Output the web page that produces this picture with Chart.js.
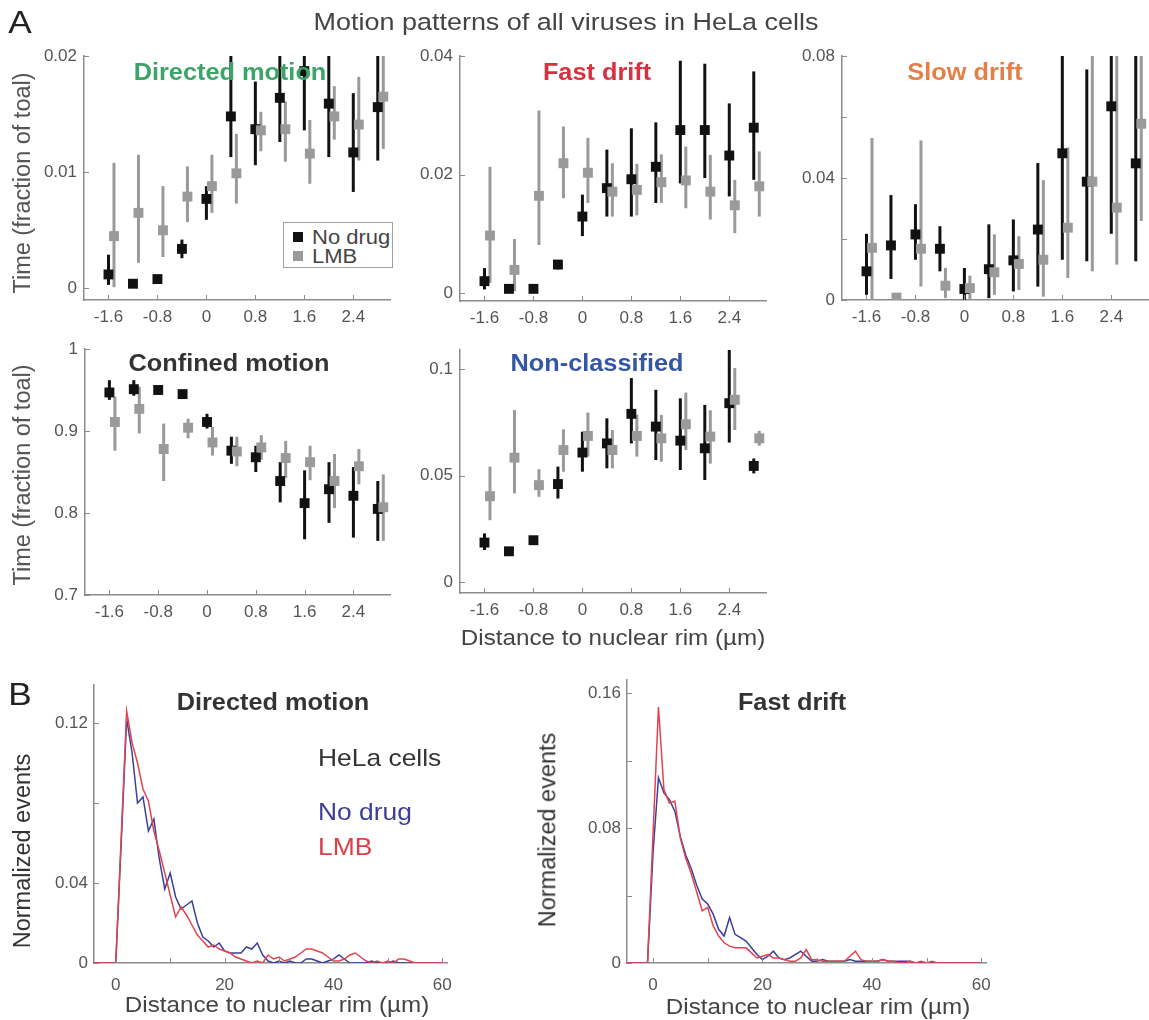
<!DOCTYPE html>
<html>
<head>
<meta charset="utf-8">
<script src="https://cdn.jsdelivr.net/npm/chart.js@4.4.1/dist/chart.umd.min.js"></script>
<style>
  body { margin: 0; background: #fff; }
  #fig { position: relative; width: 1149px; height: 1020px; overflow: hidden; background: #fff;
         font-family: "Liberation Sans", Arial, sans-serif; }
  .box { position: absolute; }
  .lbl { position: absolute; white-space: nowrap; line-height: 1; }
  #legend { position: absolute; left: 283px; top: 222px; width: 108px; height: 44px;
            border: 1px solid #a0a0a0; background: #fff; }
</style>
</head>
<body>
<div id="fig"></div>
<script>
// ---- panel A: distance bins (um) ----
const distA = [-1.6, -1.2, -0.8, -0.4, 0, 0.4, 0.8, 1.2, 1.6, 2.0, 2.4, 2.8];
const distTicksA = [-1.6, -0.8, 0, 0.8, 1.6, 2.4];
const distLabelsA = ['-1.6', '-0.8', '0', '0.8', '1.6', '2.4'];

// Directed motion
const directedNoDrug = [0.0012, 0.0004, 0.0008, 0.0034, 0.0077, 0.0148, 0.0137, 0.0164, 0.0187, 0.0159, 0.0117, 0.0156];
const directedNoDrugCI = [[0.0003, 0.0029], [0.0002, 0.0006], [0.0006, 0.0010], [0.0026, 0.0042], [0.0059, 0.0088], [0.0113, 0.0215],
  [0.0106, 0.0178], [0.0126, 0.0215], [0.0136, 0.0215], [0.0113, 0.0215], [0.0083, 0.0168], [0.0110, 0.0215]];
const directedLMB = [0.0045, 0.0065, 0.0050, 0.0079, 0.0088, 0.0099, 0.0136, 0.0137, 0.0116, 0.0148, 0.0141, 0.0165];
const directedLMBCI = [[0.0001, 0.0108], [0.0022, 0.0115], [0.0027, 0.0088], [0.0057, 0.0105], [0.0065, 0.0115], [0.0073, 0.0133],
  [0.0118, 0.0152], [0.0109, 0.0161], [0.0090, 0.0145], [0.0128, 0.0174], [0.0110, 0.0182], [0.0120, 0.0215]];

// Fast drift
const fastNoDrug = [0.0020, 0.0007, 0.0007, 0.0048, 0.0129, 0.0177, 0.0192, 0.0213, 0.0275, 0.0275, 0.0232, 0.0279];
const fastNoDrugCI = [[0.0006, 0.0042], [0.0004, 0.0010], [0.0004, 0.0010], [0.0040, 0.0055], [0.0096, 0.0166], [0.0129, 0.0242],
  [0.0129, 0.0278], [0.0152, 0.0288], [0.0185, 0.0392], [0.0194, 0.0387], [0.0163, 0.0320], [0.0191, 0.0374]];
const fastLMB = [0.0097, 0.0039, 0.0164, 0.0219, 0.0203, 0.0171, 0.0174, 0.0187, 0.0190, 0.0171, 0.0148, 0.0180];
const fastLMBCI = [[0.0017, 0.0213], [0.0003, 0.0091], [0.0081, 0.0308], [0.0160, 0.0281], [0.0152, 0.0262], [0.0129, 0.0219],
  [0.0131, 0.0218], [0.0152, 0.0234], [0.0143, 0.0247], [0.0124, 0.0233], [0.0101, 0.0191], [0.0129, 0.0239]];

// Slow drift
const slowNoDrug = [0.0094, 0.0179, 0.0215, 0.0168, 0.0036, 0.0101, 0.0130, 0.0231, 0.0481, 0.0388, 0.0635, 0.0448];
const slowNoDrugCI = [[0.0017, 0.0217], [0.0069, 0.0344], [0.0132, 0.0314], [0.0094, 0.0242], [0.0000, 0.0105], [0.0006, 0.0248],
  [0.0028, 0.0264], [0.0044, 0.0449], [0.0132, 0.0850], [0.0127, 0.0756], [0.0217, 0.0850], [0.0127, 0.0850]];
const slowLMB = [0.0171, 0.0008, 0.0168, 0.0047, 0.0039, 0.0091, 0.0118, 0.0132, 0.0237, 0.0388, 0.0303, 0.0578];
const slowLMBCI = [[0.0000, 0.0531], [0.0002, 0.0014], [0.0044, 0.0523], [0.0006, 0.0105], [0.0000, 0.0080], [0.0017, 0.0215],
  [0.0033, 0.0209], [0.0011, 0.0393], [0.0072, 0.0500], [0.0094, 0.0850], [0.0116, 0.0850], [0.0259, 0.0850]];

// Confined motion
const confinedNoDrug = [0.947, 0.951, 0.950, 0.945, 0.911, 0.876, 0.868, 0.839, 0.812, 0.829, 0.821, 0.805];
const confinedNoDrugCI = [[0.938, 0.962], [0.943, 0.962], [0.945, 0.955], [0.941, 0.949], [0.903, 0.921], [0.860, 0.893],
  [0.850, 0.882], [0.813, 0.862], [0.768, 0.852], [0.788, 0.862], [0.770, 0.856], [0.766, 0.839]];
const confinedLMB = [0.911, 0.927, 0.878, 0.904, 0.886, 0.875, 0.880, 0.867, 0.862, 0.839, 0.857, 0.807];
const confinedLMBCI = [[0.876, 0.942], [0.897, 0.954], [0.839, 0.909], [0.891, 0.915], [0.870, 0.905], [0.857, 0.893],
  [0.865, 0.895], [0.843, 0.888], [0.840, 0.882], [0.806, 0.872], [0.835, 0.878], [0.766, 0.847]];

// Non-classified
const nonclassNoDrug = [0.0185, 0.0144, 0.0196, 0.0460, 0.0608, 0.0651, 0.0790, 0.0730, 0.0664, 0.0628, 0.0840, 0.0545];
const nonclassNoDrugCI = [[0.0150, 0.0228], [0.0130, 0.0158], [0.0180, 0.0210], [0.0392, 0.0542], [0.0518, 0.0706], [0.0534, 0.0769],
  [0.0651, 0.0958], [0.0573, 0.0903], [0.0526, 0.0863], [0.0479, 0.0832], [0.0655, 0.1090], [0.0510, 0.0580]];
const nonclassLMB = [0.0403, 0.0584, 0.0455, 0.0620, 0.0686, 0.0620, 0.0686, 0.0675, 0.0741, 0.0683, 0.0856, 0.0675];
const nonclassLMBCI = [[0.0290, 0.0542], [0.0416, 0.0808], [0.0400, 0.0530], [0.0518, 0.0717], [0.0589, 0.0796], [0.0534, 0.0714],
  [0.0589, 0.0786], [0.0565, 0.0785], [0.0620, 0.0890], [0.0556, 0.0807], [0.0714, 0.1005], [0.0640, 0.0710]];

// ---- panel B: distance histogram (um) ----
const distB = [-5, -4, -3, -2, -1, 0, 1, 2, 3, 4, 5, 6, 7, 8, 9, 10, 11, 12, 13, 14, 15, 16, 17, 18, 19, 20,
  21, 22, 23, 24, 25, 26, 27, 28, 29, 30, 31, 32, 33, 34, 35, 36, 37, 38, 39, 40,
  41, 42, 43, 44, 45, 46, 47, 48, 49, 50, 51, 52, 53, 54, 55, 56, 57, 58, 59, 60];
const distTicksB = [0, 10, 20, 30, 40, 50, 60];
const distLabelsB = ['0', '', '20', '', '40', '', '60'];

const histDirectedNoDrug = [0, 0, 0, 0, 0, 0, 0.060, 0.122, 0.105, 0.080, 0.083, 0.066, 0.072, 0.052, 0.037, 0.045,
  0.033, 0.027, 0.029, 0.031, 0.020, 0.013, 0.011, 0.008, 0.010, 0.006,
  0.005, 0.005, 0.005, 0.008, 0.007, 0.010, 0.004, 0.001, 0, 0.001, 0, 0.001, 0, 0, 0.002, 0.002, 0.001, 0, 0.001, 0.002,
  0.004, 0.002, 0, 0, 0, 0, 0.001, 0, 0, 0, 0.001, 0, 0, 0, 0, 0, 0, 0, 0, 0];
const histDirectedLMB = [0, 0, 0, 0, 0, 0, 0.063, 0.126, 0.110, 0.100, 0.087, 0.081, 0.066, 0.056, 0.045, 0.034,
  0.023, 0.028, 0.024, 0.019, 0.014, 0.011, 0.008, 0.009, 0.007, 0.006,
  0.005, 0.003, 0.002, 0.001, 0, 0.001, 0, 0.004, 0.002, 0.003, 0.001, 0.002, 0.003, 0.005, 0.007, 0.007, 0.006, 0.005, 0.003, 0.001,
  0.001, 0.002, 0.004, 0.005, 0.003, 0.001, 0, 0.001, 0, 0.001, 0, 0.002, 0.002, 0.001, 0, 0, 0, 0, 0, 0];
const histFastNoDrug = [0, 0, 0, 0, 0, 0.065, 0.110, 0.101, 0.097, 0.090, 0.075, 0.064, 0.056, 0.046, 0.038, 0.035,
  0.029, 0.020, 0.016, 0.027, 0.017, 0.015, 0.013, 0.009, 0.005, 0.002,
  0.004, 0.007, 0.003, 0.002, 0.003, 0.005, 0.007, 0.004, 0.001, 0.001, 0.002, 0.001, 0.001, 0.001, 0.001, 0.002, 0.001, 0.001, 0.001, 0.001,
  0.001, 0.002, 0.001, 0.001, 0.001, 0.001, 0.001, 0, 0, 0, 0, 0, 0, 0, 0, 0, 0, 0, 0, 0];
const histFastLMB = [0, 0, 0, 0, 0, 0.076, 0.152, 0.103, 0.095, 0.096, 0.074, 0.062, 0.053, 0.042, 0.031, 0.033,
  0.022, 0.016, 0.012, 0.010, 0.009, 0.009, 0.009, 0.006, 0.003, 0.004,
  0.005, 0.003, 0.003, 0.002, 0.001, 0.001, 0.003, 0.008, 0.002, 0.002, 0.001, 0.001, 0.001, 0.001, 0.001, 0.004, 0.007, 0.002, 0.001, 0.001,
  0.001, 0.002, 0.001, 0.001, 0, 0, 0.001, 0, 0.001, 0, 0.001, 0, 0, 0, 0, 0, 0, 0, 0, 0];

// ---- look ----
const AXIS = '#8c8c8c';
const TICK_COLOR = '#555';
const FONT = '"Liberation Sans", Arial, sans-serif';
const BLACK = '#111';
const GRAY = '#9a9a9a';
const LMB_SHIFT = 0.09;
const PAD_L = 80, PAD_T = 22, PAD_B = 45;

const fig = document.getElementById('fig');

const errorBars = {
  id: 'errorBars',
  beforeDatasetsDraw(chart) {
    const { ctx, chartArea: a, scales: { x, y } } = chart;
    ctx.save();
    ctx.beginPath();
    ctx.rect(a.left, a.top, a.right - a.left, a.bottom - a.top);
    ctx.clip();
    chart.data.datasets.forEach(ds => {
      if (!ds.ci) return;
      ctx.strokeStyle = ds.barColor;
      ctx.lineWidth = ds.barWidth;
      ds.data.forEach((p, i) => {
        const px = x.getPixelForValue(p.x);
        ctx.beginPath();
        ctx.moveTo(px, y.getPixelForValue(ds.ci[i][0]));
        ctx.lineTo(px, y.getPixelForValue(ds.ci[i][1]));
        ctx.stroke();
      });
    });
    ctx.restore();
  }
};

// matlab style ticks pointing into the axes
const innerTicks = {
  id: 'innerTicks',
  afterDraw(chart) {
    const { ctx, chartArea: a, scales: { x, y } } = chart;
    ctx.save();
    ctx.strokeStyle = AXIS;
    ctx.lineWidth = 1;
    x.ticks.forEach(t => {
      const px = Math.round(x.getPixelForValue(t.value)) + 0.5;
      ctx.beginPath(); ctx.moveTo(px, a.bottom); ctx.lineTo(px, a.bottom - 5); ctx.stroke();
    });
    y.ticks.forEach(t => {
      const py = Math.round(y.getPixelForValue(t.value)) + 0.5;
      ctx.beginPath(); ctx.moveTo(a.left, py); ctx.lineTo(a.left + 5, py); ctx.stroke();
    });
    ctx.restore();
  }
};

function scale(min, max, ticks, labels, pad, fit) {
  return {
    type: 'linear', min, max,
    grid: { display: false, drawTicks: false },
    border: { display: true, color: AXIS, width: 1.5 },
    ticks: {
      font: { family: FONT, size: 17 }, color: TICK_COLOR, padding: pad,
      autoSkip: false, maxRotation: 0,
      callback: (v, i) => labels[i]
    },
    afterBuildTicks: s => { s.ticks = ticks.map(v => ({ value: v })); },
    afterFit: fit
  };
}

function makeCanvas(area) {
  const pr = area.pr !== undefined ? area.pr : 16;
  const w = area.r - area.l + PAD_L + pr;
  const h = area.b - area.t + PAD_T + PAD_B;
  const div = document.createElement('div');
  div.className = 'box';
  div.style.left = (area.l - PAD_L) + 'px';
  div.style.top = (area.t - PAD_T) + 'px';
  const canvas = document.createElement('canvas');
  canvas.width = w; canvas.height = h;
  canvas.style.width = w + 'px'; canvas.style.height = h + 'px';
  div.appendChild(canvas);
  fig.appendChild(div);
  return { ctx: canvas.getContext('2d'), pr };
}

function baseOptions(pr) {
  return {
    responsive: false,
    animation: false,
    devicePixelRatio: 1,
    layout: { padding: { top: PAD_T, right: pr, left: 0, bottom: 0 }, autoPadding: false },
    plugins: { legend: { display: false }, tooltip: { enabled: false } }
  };
}

function errorPanel(area, yMin, yMax, yTicks, yLabels, noDrug, noDrugCI, lmb, lmbCI) {
  const { ctx, pr } = makeCanvas(area);
  const opts = baseOptions(pr);
  opts.scales = {
    x: scale(-2, 3, distTicksA, distLabelsA, 7, s => { s.height = PAD_B; }),
    y: scale(yMin, yMax, yTicks, yLabels, 7, s => { s.width = PAD_L; })
  };
  return new Chart(ctx, {
    type: 'scatter',
    data: {
      datasets: [
        {
          label: 'LMB', order: 1,
          data: distA.map((d, i) => ({ x: d + LMB_SHIFT, y: lmb[i] })),
          ci: lmbCI, barColor: GRAY, barWidth: 3,
          pointStyle: 'rect', pointRadius: 7, backgroundColor: GRAY, borderWidth: 0
        },
        {
          label: 'No drug', order: 2,
          data: distA.map((d, i) => ({ x: d, y: noDrug[i] })),
          ci: noDrugCI, barColor: BLACK, barWidth: 3,
          pointStyle: 'rect', pointRadius: 7, backgroundColor: BLACK, borderWidth: 0
        }
      ]
    },
    options: opts,
    plugins: [errorBars, innerTicks]
  });
}

function histPanel(area, xMin, yMax, yTicks, yLabels, noDrug, lmb) {
  const { ctx, pr } = makeCanvas(area);
  const opts = baseOptions(pr);
  opts.scales = {
    x: scale(xMin, 61, distTicksB, distLabelsB, 12, s => { s.height = PAD_B; }),
    y: scale(0, yMax, yTicks, yLabels, 6, s => { s.width = PAD_L; })
  };
  return new Chart(ctx, {
    type: 'line',
    data: {
      datasets: [
        {
          label: 'LMB', order: 1,
          data: distB.map((d, i) => ({ x: d, y: lmb[i] })),
          borderColor: '#e3434f', borderWidth: 1.5, pointRadius: 0, tension: 0
        },
        {
          label: 'No drug', order: 2,
          data: distB.map((d, i) => ({ x: d, y: noDrug[i] })),
          borderColor: '#3c3f98', borderWidth: 1.5, pointRadius: 0, tension: 0
        }
      ]
    },
    options: opts,
    plugins: [innerTicks]
  });
}

errorPanel({ l: 84, t: 56, r: 390, b: 300 }, -0.001, 0.02, [0, 0.01, 0.02], ['0', '0.01', '0.02'],
  directedNoDrug, directedNoDrugCI, directedLMB, directedLMBCI);
errorPanel({ l: 460, t: 56, r: 766, b: 301 }, -0.00135, 0.04, [0, 0.02, 0.04], ['0', '0.02', '0.04'],
  fastNoDrug, fastNoDrugCI, fastLMB, fastLMBCI);
errorPanel({ l: 842, t: 56, r: 1148, b: 300, pr: 1 }, 0, 0.08, [0, 0.02, 0.04, 0.06, 0.08], ['0', '', '0.04', '', '0.08'],
  slowNoDrug, slowNoDrugCI, slowLMB, slowLMBCI);
errorPanel({ l: 85, t: 349, r: 390, b: 595 }, 0.7, 1.0, [0.7, 0.8, 0.9, 1.0], ['0.7', '0.8', '0.9', '1'],
  confinedNoDrug, confinedNoDrugCI, confinedLMB, confinedLMBCI);
errorPanel({ l: 460, t: 350, r: 766, b: 593 }, -0.0052, 0.109, [0, 0.05, 0.1], ['0', '0.05', '0.1'],
  nonclassNoDrug, nonclassNoDrugCI, nonclassLMB, nonclassLMBCI);

histPanel({ l: 94, t: 685, r: 448, b: 963 }, -4, 0.139, [0, 0.04, 0.08, 0.12], ['0', '0.04', '', '0.12'],
  histDirectedNoDrug, histDirectedLMB);
histPanel({ l: 627, t: 680, r: 987, b: 963 }, -4.75, 0.168, [0, 0.04, 0.08, 0.12, 0.16], ['0', '', '0.08', '', '0.16'],
  histFastNoDrug, histFastLMB);

// ---- text ----
function addText(txt, x, y, o = {}) {
  const el = document.createElement('div');
  el.className = 'lbl';
  el.textContent = txt;
  el.style.left = x + 'px';
  el.style.top = y + 'px';
  el.style.fontSize = (o.size || 24) + 'px';
  el.style.fontWeight = o.bold ? 'bold' : 'normal';
  el.style.color = o.color || '#444';
  if (o.rotate) {
    el.style.transform = 'translate(-50%, -50%) rotate(-90deg)';
  } else if (o.left) {
    el.style.transformOrigin = '0 50%';
    el.style.transform = 'translate(0, -50%) scaleX(1.1)';
  } else {
    el.style.transform = 'translate(-50%, -50%) scaleX(1.1)';
  }
  fig.appendChild(el);
  return el;
}

addText('A', 20, 22, { size: 32, color: '#222' });
addText('B', 20, 694, { size: 32, color: '#222' });
addText('Motion patterns of all viruses in HeLa cells', 566, 22, { size: 24.5, color: '#444' });

addText('Directed motion', 230, 72, { size: 23, bold: true, color: '#3ba466' });
addText('Fast drift', 597, 72, { size: 23, bold: true, color: '#d8303e' });
addText('Slow drift', 965, 72, { size: 23, bold: true, color: '#e67e48' });
addText('Confined motion', 229, 363, { size: 23, bold: true, color: '#333' });
addText('Non-classified', 597, 363, { size: 23, bold: true, color: '#3456a4' });

addText('Time (fraction of toal)', 23, 183, { size: 23.5, rotate: true, color: '#555' });
addText('Time (fraction of toal)', 23, 475, { size: 23.5, rotate: true, color: '#555' });
addText('Distance to nuclear rim (\u00b5m)', 613, 638, { size: 22, color: '#444' });

addText('Directed motion', 273, 702, { size: 23, bold: true, color: '#333' });
addText('Fast drift', 792, 702, { size: 23, bold: true, color: '#333' });
addText('Normalized events', 23, 851, { size: 23.5, rotate: true, color: '#333' });
addText('Normalized events', 548, 830, { size: 23.5, rotate: true, color: '#333' });
addText('Distance to nuclear rim (\u00b5m)', 277, 1005, { size: 22, color: '#444' });
addText('Distance to nuclear rim (\u00b5m)', 818, 1007, { size: 22, color: '#444' });

addText('HeLa cells', 318, 758, { size: 24, left: true, color: '#333' });
addText('No drug', 318, 812, { size: 24, left: true, color: '#3c3f98' });
addText('LMB', 318, 847, { size: 24, left: true, color: '#d8404a' });

// legend of panel A (boxed, inside Directed motion)
const legend = document.createElement('div');
legend.id = 'legend';
fig.appendChild(legend);
[['No drug', BLACK, 14], ['LMB', GRAY, 33]].forEach(([name, color, cy]) => {
  const sq = document.createElement('div');
  sq.style.cssText = `position:absolute;left:9px;top:${cy - 5}px;width:10px;height:10px;background:${color};`;
  legend.appendChild(sq);
  const t = document.createElement('div');
  t.className = 'lbl';
  t.textContent = name;
  t.style.cssText += `left:28px;top:${cy}px;font-size:20px;color:#444;transform-origin:0 50%;transform:translate(0,-50%) scaleX(1.1);`;
  legend.appendChild(t);
});
</script>
</body>
</html>
